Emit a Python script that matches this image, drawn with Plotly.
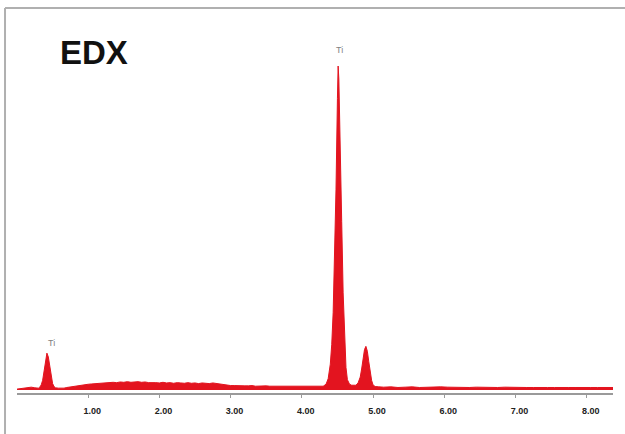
import plotly.graph_objects as go

# Energy (keV) and counts (relative, Ti K-alpha peak = 100)
energy_keV = [
    0.00, 0.05, 0.10, 0.15, 0.20, 0.25, 0.28,
    0.30, 0.32, 0.34, 0.36, 0.38, 0.40, 0.42, 0.44, 0.46, 0.48, 0.50, 0.52, 0.54,
    0.58, 0.62, 0.66, 0.70, 0.75, 0.80, 0.85, 0.90, 0.95, 1.00, 1.05, 1.10, 1.15,
    1.20, 1.25, 1.30, 1.35, 1.40, 1.45, 1.50, 1.55, 1.60, 1.65, 1.70, 1.75, 1.80,
    1.85, 1.90, 1.95, 2.00, 2.05, 2.10, 2.15, 2.20, 2.25, 2.30, 2.35, 2.40, 2.45,
    2.50, 2.55, 2.60, 2.65, 2.70, 2.75, 2.80, 2.85, 2.90, 2.95, 3.00, 3.05, 3.10,
    3.15, 3.20, 3.25, 3.30, 3.35, 3.40, 3.45, 3.50, 3.55, 3.60, 3.65, 3.70, 3.75,
    3.80, 3.85, 3.90, 3.95, 4.00, 4.05, 4.10, 4.15, 4.20, 4.25,
    4.30, 4.34, 4.37, 4.40, 4.42, 4.44, 4.46, 4.48, 4.50, 4.51, 4.52, 4.54, 4.56,
    4.58, 4.60, 4.62, 4.64, 4.67, 4.70, 4.73,
    4.76, 4.79, 4.82, 4.84, 4.86, 4.88, 4.90, 4.92, 4.94, 4.96, 4.98, 5.00, 5.03,
    5.08, 5.15, 5.25, 5.35, 5.45, 5.55, 5.65, 5.75, 5.85, 5.95, 6.05, 6.15, 6.25,
    6.35, 6.45, 6.55, 6.65, 6.75, 6.85, 6.95, 7.05, 7.15, 7.25, 7.35, 7.45, 7.55,
    7.65, 7.75, 7.85, 7.95, 8.05, 8.15, 8.25, 8.37,
]
counts = [
    0.3, 0.4, 0.5, 0.6, 0.9, 0.7, 0.6,
    0.6, 0.9, 1.6, 3.0, 5.6, 9.0, 11.4, 10.2, 7.0, 4.0, 2.0, 1.1, 0.7,
    0.6, 0.5, 0.6, 0.8, 1.0, 1.2, 1.4, 1.5, 1.7, 1.8, 1.9, 2.0, 2.1,
    2.2, 2.1, 2.3, 2.4, 2.3, 2.5, 2.4, 2.6, 2.4, 2.5, 2.6, 2.4, 2.5,
    2.3, 2.4, 2.3, 2.2, 2.4, 2.2, 2.3, 2.1, 2.3, 2.2, 2.1, 2.3, 2.1,
    2.2, 2.0, 2.2, 2.1, 2.0, 2.2, 2.0, 1.9, 1.6, 1.5, 1.4, 1.4, 1.3,
    1.4, 1.3, 1.3, 1.4, 1.2, 1.3, 1.2, 1.3, 1.2, 1.2, 1.3, 1.1, 1.2,
    1.2, 1.1, 1.2, 1.1, 1.1, 1.2, 1.1, 1.1, 1.2, 1.1,
    1.2, 1.8, 3.5, 8.0, 14.0, 24.0, 40.0, 62.0, 90.0, 100.0, 96.0, 78.0, 52.0,
    30.0, 15.0, 7.0, 3.2, 1.8, 1.5, 1.4,
    1.5, 2.2, 4.0, 6.5, 9.5, 12.5, 13.5, 12.0, 8.8, 5.5, 3.0, 1.6, 1.1,
    1.0, 0.9, 1.0, 0.8, 0.9, 1.0, 0.8, 0.9, 0.8, 1.0, 0.9, 0.8, 0.9,
    0.8, 0.9, 0.8, 0.9, 0.8, 0.9, 0.8, 0.9, 0.8, 0.8, 0.9, 0.8, 0.8,
    0.9, 0.8, 0.8, 0.9, 0.8, 0.8, 0.9, 0.8,
]

tick_values = [1, 2, 3, 4, 5, 6, 7, 8]
tick_labels = ["1.00", "2.00", "3.00", "4.00", "5.00", "6.00", "7.00", "8.00"]

peak_labels = ["Ti", "Ti"]
peak_label_x = [4.53, 0.49]
peak_label_y = [105, 14.5]

RED = "#e3141f"

fig = go.Figure()
fig.add_trace(go.Scatter(
    x=energy_keV, y=counts, mode="lines",
    line=dict(color=RED, width=1),
    fill="tozeroy", fillcolor=RED,
    hoverinfo="skip", showlegend=False,
))

for txt, lx, ly in zip(peak_labels, peak_label_x, peak_label_y):
    fig.add_annotation(x=lx, y=ly, text=txt, showarrow=False,
                       xanchor="center", yanchor="middle",
                       font=dict(family="Liberation Sans, Arial", size=9, color="#808080"))

fig.add_annotation(xref="paper", yref="paper", x=0.129, y=0.914,
                   xanchor="center", yanchor="middle",
                   text="<b>EDX</b>", showarrow=False,
                   font=dict(family="Liberation Sans, Arial", size=33, color="#111111"))

# outer frame (left and top edges)
frame = dict(color="#b0b0b0", width=2)
fig.add_shape(type="line", xref="paper", yref="paper",
              x0=-0.0201, x1=-0.0201, y0=1.0322, y1=-0.12, line=frame)
fig.add_shape(type="line", xref="paper", yref="paper",
              x0=-0.0201, x1=1.03, y0=1.0322, y1=1.0322, line=frame)

fig.update_layout(
    width=625, height=434,
    margin=dict(l=17, r=12, t=20, b=41),
    paper_bgcolor="white", plot_bgcolor="white",
    xaxis=dict(
        range=[0, 8.37], showgrid=False, zeroline=False,
        showline=True, linecolor="#9a9a9a", linewidth=1.5,
        tickmode="array", tickvals=tick_values, ticktext=tick_labels,
        ticks="outside", ticklen=3, tickcolor="#9a9a9a", tickwidth=1,
        ticklabelshift=4, ticklabelstandoff=5,
        tickfont=dict(family="Liberation Sans, Arial", size=9, color="#222222", weight="bold"),
    ),
    yaxis=dict(
        range=[-0.9, 114.2], showgrid=False, zeroline=False,
        showline=False, showticklabels=False, ticks="",
    ),
)

fig.write_html("out.html", config={"displayModeBar": False},
               post_script="document.body.style.margin='0';document.body.style.overflow='hidden';")
